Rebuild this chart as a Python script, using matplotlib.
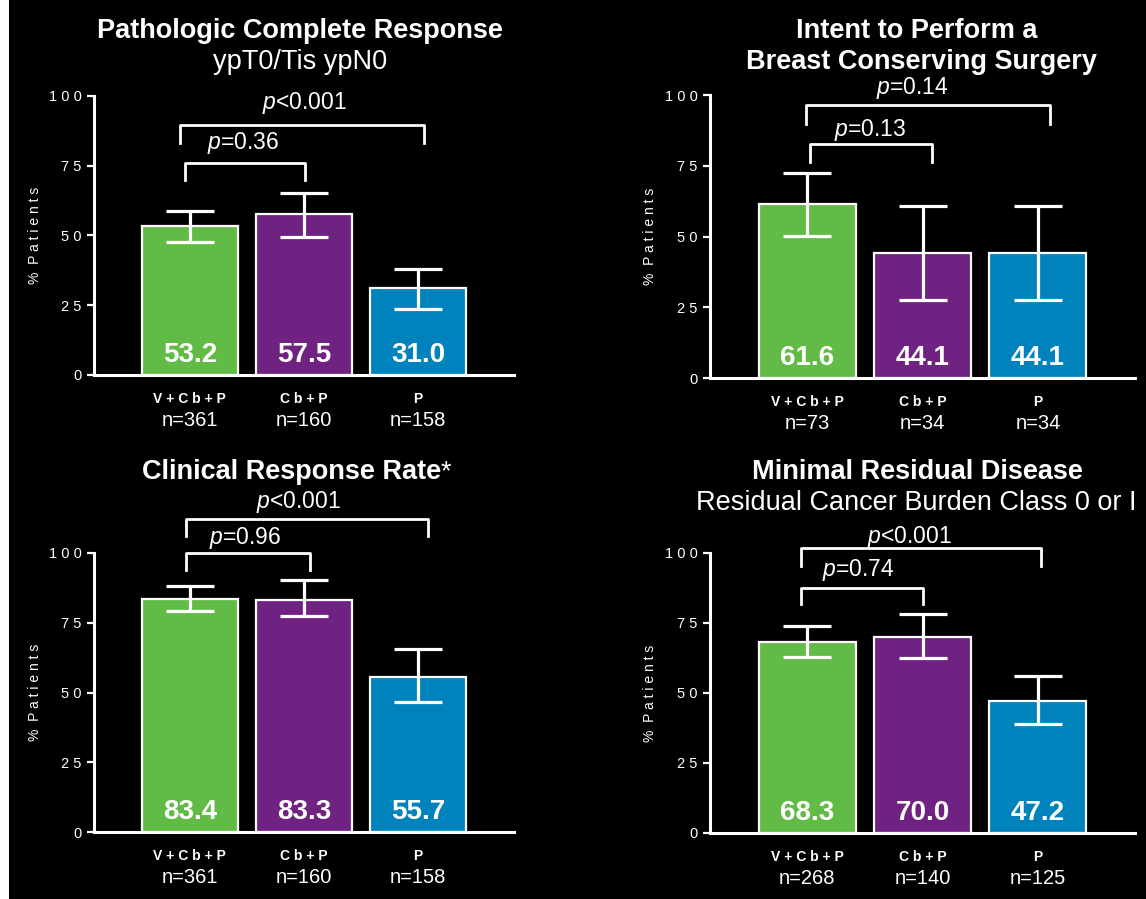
import matplotlib
matplotlib.use('Agg')
import matplotlib.pyplot as plt
from matplotlib.patches import Rectangle

plt.rcParams['font.family'] = ['Liberation Sans', 'DejaVu Sans']
plt.rcParams['mathtext.fontset'] = 'custom'
plt.rcParams['mathtext.it'] = 'Liberation Sans:italic'
plt.rcParams['mathtext.rm'] = 'Liberation Sans'

# ---------------- data ----------------
groups = ['V+Cb+P', 'Cb+P', 'P']
yticks = [0, 25, 50, 75, 100]

pcr_vals = [53.2, 57.5, 31.0]
pcr_hi = [58.7, 65.1, 38.1]
pcr_lo = [47.5, 49.5, 23.6]
pcr_n = [361, 160, 158]

bcs_vals = [61.6, 44.1, 44.1]
bcs_hi = [72.5, 60.8, 60.8]
bcs_lo = [50.2, 27.6, 27.6]
bcs_n = [73, 34, 34]

crr_vals = [83.4, 83.3, 55.7]
crr_hi = [88.2, 90.3, 65.5]
crr_lo = [79.2, 77.4, 46.5]
crr_n = [361, 160, 158]

mrd_vals = [68.3, 70.0, 47.2]
mrd_hi = [73.9, 78.2, 56.1]
mrd_lo = [62.9, 62.5, 38.9]
mrd_n = [268, 140, 125]

pcr_p = ['0.36', '<0.001']
bcs_p = ['0.13', '0.14']
crr_p = ['0.96', '<0.001']
mrd_p = ['0.74', '<0.001']

colors = ['#63BB47', '#6F2282', '#0083BD']

W, H = 1146, 899
fig = plt.figure(figsize=(W / 100, H / 100), dpi=100, facecolor='black')
fig.patches.append(Rectangle((0, 0), 9 / W, 1, transform=fig.transFigure,
                             facecolor='white', edgecolor='none', zorder=0))


def rect(left, right, y0, y100):
    return [left / W, 1 - y0 / H, (right - left) / W, (y0 - y100) / H]


def fmt_p(p):
    if p.startswith('<'):
        return r'$p$' + p
    return r'$p$=' + p


panels = [
    dict(rect=rect(94, 514, 375, 95.7), vals=pcr_vals, hi=pcr_hi, lo=pcr_lo, n=pcr_n, p=pcr_p,
         brackets=[(-0.04, 1.01, 75.9, 69.8, 0.47, 83.1),
                   (-0.085, 2.05, 89.5, 83.2, 1.0, 97.4)]),
    dict(rect=rect(710, 1135, 378, 95), vals=bcs_vals, hi=bcs_hi, lo=bcs_lo, n=bcs_n, p=bcs_p,
         brackets=[(0.03, 1.08, 82.7, 76.4, 0.55, 87.6),
                   (-0.01, 2.1, 96.3, 89.8, 0.91, 102.5)]),
    dict(rect=rect(94, 514, 832, 553), vals=crr_vals, hi=crr_hi, lo=crr_lo, n=crr_n, p=crr_p,
         brackets=[(-0.035, 1.05, 100.1, 93.9, 0.48, 105.4),
                   (-0.035, 2.09, 112.2, 106.1, 0.95, 118.4)]),
    dict(rect=rect(710, 1135, 833, 553), vals=mrd_vals, hi=mrd_hi, lo=mrd_lo, n=mrd_n, p=mrd_p,
         brackets=[(-0.05, 1.0, 87.5, 81.8, 0.44, 93.9),
                   (-0.05, 2.03, 101.8, 95.4, 0.89, 105.8)]),
]

for pnl in panels:
    ax = fig.add_axes(pnl['rect'])
    ax.set_facecolor('black')
    x = list(range(len(groups)))
    vals = pnl['vals']
    ax.bar(x, vals, width=0.84, color=colors, edgecolor='white', linewidth=1.6, zorder=2)
    yerr = [[v - l for v, l in zip(vals, pnl['lo'])], [h - v for v, h in zip(vals, pnl['hi'])]]
    ax.errorbar(x, vals, yerr=yerr, fmt='none', ecolor='white', elinewidth=2.3,
                capsize=17, capthick=2.3, zorder=3)
    ax.set_xlim(-0.84, 2.84)
    ax.set_ylim(0, 100)
    ax.set_yticks(yticks)
    ax.set_yticklabels([' '.join(str(t)) for t in yticks], color='white', fontsize=10.5)
    ax.tick_params(axis='y', colors='white', length=5, width=1.6, pad=4, labelcolor='white')
    ax.set_xticks([])
    for s in ['top', 'right']:
        ax.spines[s].set_visible(False)
    for s in ['left', 'bottom']:
        ax.spines[s].set_color('white')
        ax.spines[s].set_linewidth(2.2)
        ax.spines[s].set_zorder(4)
    ax.text(-0.14, 0.5, '%  P a t i e n t s', rotation=90, ha='center', va='center',
            transform=ax.transAxes, color='white', fontsize=10)
    for i, (v, g, nn) in enumerate(zip(vals, groups, pnl['n'])):
        ax.annotate(f'{v:.1f}', xy=(i, 0), xytext=(0, 14.5), textcoords='offset points',
                    ha='center', va='center', color='white', fontsize=20, fontweight='bold',
                    zorder=5)
        ax.annotate(' '.join(g), xy=(i, 0), xycoords=('data', 'axes fraction'),
                    xytext=(0, -17.3), textcoords='offset points', ha='center', va='center',
                    color='white', fontsize=10, fontweight='bold', annotation_clip=False)
        ax.annotate(f'n={nn}', xy=(i, 0), xycoords=('data', 'axes fraction'),
                    xytext=(0, -33), textcoords='offset points', ha='center', va='center',
                    color='white', fontsize=14.5, annotation_clip=False)
    for (x1, x2, top, leg, tx, ty), pv in zip(pnl['brackets'], pnl['p']):
        ax.plot([x1, x1, x2, x2], [leg, top, top, leg], color='white', lw=2,
                clip_on=False, solid_joinstyle='round', zorder=5)
        ax.text(tx, ty, fmt_p(pv), ha='center', va='center', color='white',
                fontsize=16.5, clip_on=False)


def ftxt(px, py, s, bold=True, ha='center'):
    fig.text(px / W, 1 - py / H, s, ha=ha, va='center', color='white', fontsize=19.5,
             fontweight='bold' if bold else 'normal')


ftxt(300, 31, 'Pathologic Complete Response')
ftxt(300, 62, 'ypT0/Tis ypN0', bold=False)
ftxt(917, 31, 'Intent to Perform a')
ftxt(921, 62, 'Breast Conserving Surgery')
ftxt(441, 472, 'Clinical Response Rate', ha='right')
ftxt(441, 472, '*', bold=False, ha='left')
ftxt(917, 472, 'Minimal Residual Disease')
ftxt(916, 503, 'Residual Cancer Burden Class 0 or I', bold=False)

fig.savefig('out.png', dpi=100, facecolor='black')
